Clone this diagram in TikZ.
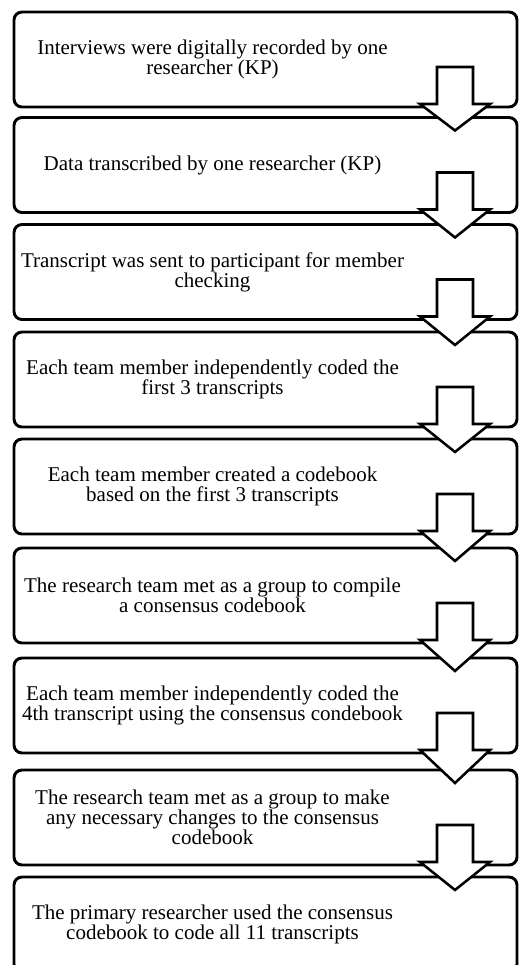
\documentclass[tikz,border=0pt]{standalone}
\usepackage{fontspec}
\setmainfont{Liberation Serif}
\usepackage{tikz}
\usetikzlibrary{calc}

\begin{document}
\begin{tikzpicture}[x=0.75pt,y=-0.75pt,
  box/.style={draw,line width=2.2pt,rounded corners=6pt,minimum width=377.25pt,minimum height=71.25pt,inner sep=0pt,outer sep=0pt},
  txt/.style={font=\fontsize{15.75}{15}\selectfont,align=center},
  blk/.style={draw,line width=1.9pt,fill=white,line join=miter}]
\clip (0,0) rectangle (520,965);
\node[box] (b1) at (265.5,59.5) {};
\node[box] (b2) at (265.5,165) {};
\node[box] (b3) at (265.5,272) {};
\node[box] (b4) at (265.5,379.5) {};
\node[box] (b5) at (265.5,486.5) {};
\node[box] (b6) at (265.5,595.5) {};
\node[box] (b7) at (265.5,705.5) {};
\node[box] (b8) at (265.5,817.5) {};
\node[box] (b9) at (265.5,924.5) {};
\node[txt] (t1) at ($(b1)+(-53,0)$) {Interviews were digitally recorded by one\\researcher (KP)};
\node[txt] (t2) at ($(b2)+(-53,0)$) {Data transcribed by one researcher (KP)};
\node[txt] (t3) at ($(b3)+(-53,0)$) {Transcript was sent to participant for member\\checking};
\node[txt] (t4) at ($(b4)+(-53,0)$) {Each team member independently coded the\\first 3 transcripts};
\node[txt] (t5) at ($(b5)+(-53,0)$) {Each team member created a codebook\\based on the first 3 transcripts};
\node[txt] (t6) at ($(b6)+(-53,0)$) {The research team met as a group to compile\\a consensus codebook};
\node[txt] (t7) at ($(b7)+(-53,0)$) {Each team member independently coded the\\4th transcript using the consensus condebook};
\node[txt] (t8) at ($(b8)+(-53,0)$) {The research team met as a group to make\\any necessary changes to the consensus\\codebook};
\node[txt] (t9) at ($(b9)+(-53,0)$) {The primary researcher used the consensus\\codebook to code all 11 transcripts};
\foreach \i/\j in {1/2,2/3,3/4,4/5,5/6,6/7,7/8,8/9}
  \draw[blk] ($(b\i.south east)+(-80,-40)$) -- ($(b\i.south east)+(-80,-3)$) -- ($(b\i.south east)+(-97,-3)$)
    -- ($(b\j.north east)+(-62,13)$) -- ($(b\i.south east)+(-27,-3)$) -- ($(b\i.south east)+(-44,-3)$)
    -- ($(b\i.south east)+(-44,-40)$) -- cycle;
\end{tikzpicture}
\end{document}
